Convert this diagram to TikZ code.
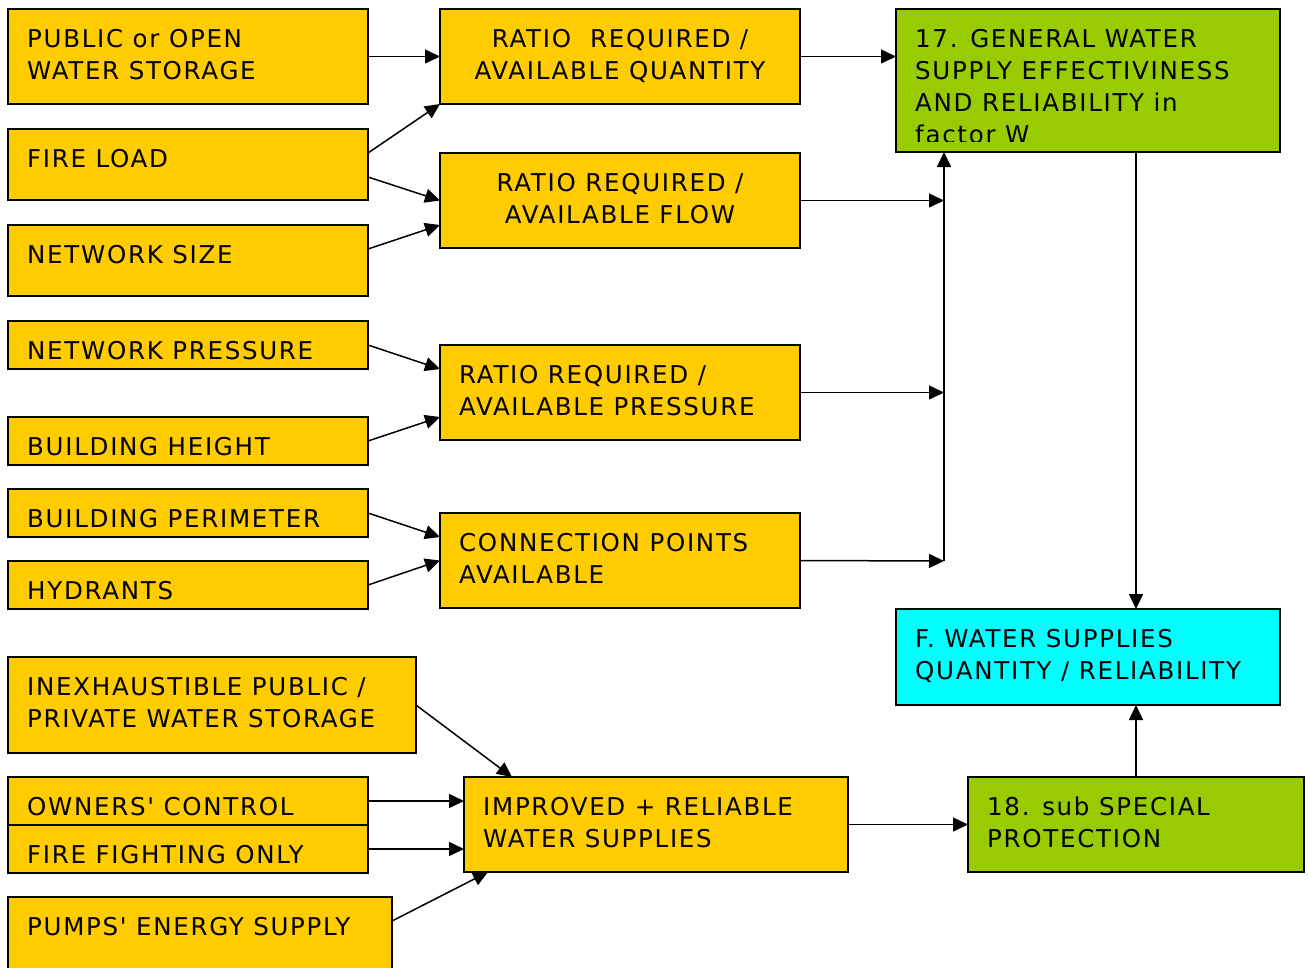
\documentclass[tikz,border=0pt]{standalone}
\usepackage{fontspec}
\setmainfont{DejaVu Sans}[LetterSpace=7, Ligatures=TeXOff]
\usetikzlibrary{arrows.meta,calc}
\definecolor{boxyellow}{HTML}{FFCC00}
\definecolor{boxgreen}{HTML}{99CC00}
\definecolor{boxcyan}{HTML}{00FFFF}
\tikzset{
  panel/.style={draw=black, line width=1.8pt, inner sep=0pt, outer sep=0pt, fill=#1},
  boxtext/.style={inner sep=0pt, align=left, font=\fontsize{24.5}{32}\selectfont},
  ctrtext/.style={inner sep=0pt, align=center, font=\fontsize{24.5}{32}\selectfont},
  link/.style={line width=1.5pt, -{Triangle[length=15pt,width=14pt]}},
}
% box from (x1,y1) to (x2,y2) with left-aligned text at the top
\newcommand\panelbox[7]{%
  \node[panel=#6, minimum width={#4-#2}, minimum height={#5-#3}] (#1) at ({(#2+#4)/2},{(#3+#5)/2}) {};
  \node[boxtext, anchor=north west] (#1-text) at ({#2+19},{#3+15.6}) {\strut #7};
}
\begin{document}
\begin{tikzpicture}[x=1pt,y=-1pt]
\useasboundingbox (0,0) rectangle (1308,967);
\clip (0,0) rectangle (1308,967);
\fill[white] (0,0) rectangle (1308,967);

% input factors
\panelbox{pub}{8}{9}{368}{104}{boxyellow}{PUBLIC or OPEN\\WATER STORAGE}
\panelbox{fire}{8}{129}{368}{200}{boxyellow}{FIRE LOAD}
\panelbox{netsize}{8}{225}{368}{296}{boxyellow}{NETWORK SIZE}
\panelbox{npress}{8}{321}{368}{369}{boxyellow}{NETWORK PRESSURE}
\panelbox{bheight}{8}{417}{368}{465}{boxyellow}{BUILDING HEIGHT}
\panelbox{bper}{8}{489}{368}{537}{boxyellow}{BUILDING PERIMETER}
\panelbox{hyd}{8}{561}{368}{609}{boxyellow}{HYDRANTS}
\panelbox{inex}{8}{657}{416}{753}{boxyellow}{INEXHAUSTIBLE PUBLIC /\\PRIVATE WATER STORAGE}
\panelbox{owners}{8}{777}{368}{825}{boxyellow}{OWNERS' CONTROL}
\panelbox{ffight}{8}{825}{368}{873}{boxyellow}{FIRE FIGHTING ONLY}
\panelbox{pumps}{8}{897}{392}{969}{boxyellow}{PUMPS' ENERGY SUPPLY}

% ratios
\node[panel=boxyellow, minimum width=360, minimum height=95] (r1) at (620,56.5) {};
\node[ctrtext, anchor=north] (r1-text) at (620,24.6) {\strut RATIO\ \ REQUIRED /\\AVAILABLE QUANTITY};
\node[panel=boxyellow, minimum width=360, minimum height=95] (r2) at (620,200.5) {};
\node[ctrtext, anchor=north] (r2-text) at (620,168.6) {\strut RATIO REQUIRED /\\AVAILABLE FLOW};
\panelbox{r3}{440}{345}{800}{440}{boxyellow}{RATIO REQUIRED /\\AVAILABLE PRESSURE}
\panelbox{r4}{440}{513}{800}{608}{boxyellow}{CONNECTION POINTS\\AVAILABLE}
\panelbox{imp}{464}{777}{848}{872}{boxyellow}{IMPROVED + RELIABLE\\WATER SUPPLIES}

% results
\node[panel=boxgreen, minimum width=384, minimum height=143] (g17) at (1088,80.5) {};
\begin{scope}
  \clip (896,9) rectangle (1280,141);
  \node[boxtext, anchor=north west] (g17-text) at (915,24.6)
    {\strut 17. GENERAL WATER\\SUPPLY EFFECTIVINESS\\AND RELIABILITY in\\factor W};
\end{scope}
\panelbox{fbox}{896}{609}{1280}{705}{boxcyan}{F. WATER SUPPLIES\\QUANTITY / RELIABILITY}
\panelbox{g18}{968}{777}{1304}{872}{boxgreen}{18. sub SPECIAL\\PROTECTION}

% connectors
\draw[link] (pub.east) -- (r1.west);
\draw[link] ($(fire.east)+(0,-11.5)$) -- (r1.south west);
\draw[link] ($(fire.east)+(0,12.5)$) -- (r2.west);
\draw[link] ($(netsize.east)+(0,-11.5)$) -- ($(r2.west)+(0,24.5)$);
\draw[link] (npress.east) -- ($(r3.west)+(0,-23.5)$);
\draw[link] (bheight.east) -- ($(r3.west)+(0,24.5)$);
\draw[link] (bper.east) -- ($(r4.west)+(0,-23.5)$);
\draw[link] (hyd.east) -- (r4.west);
\draw[link] (r1.east) -- (r1.east -| g17.west);
\coordinate (join) at (944,561);
\draw[link] (r2.east) -- (r2.east -| join);
\draw[link] (r3.east) -- (r3.east -| join);
\draw[link] (r4.east) -- (join);
\draw[link] (join) -- (join |- g17.south);
\draw[link] ($(g17.south)+(48,0)$) -- ($(fbox.north)+(48,0)$);
\draw[link] (inex.east) -- ($(imp.north west)+(48,0)$);
\draw[link] (owners.east) -- ($(imp.west)+(0,-23.5)$);
\draw[link] (ffight.east) -- ($(imp.west)+(0,24.5)$);
\draw[link] ($(pumps.north east)+(0,24)$) -- ($(imp.south west)+(24,0)$);
\draw[link] (imp.east) -- (g18.west);
\draw[link] (g18.north) -- (g18.north |- fbox.south);
\end{tikzpicture}
\end{document}
